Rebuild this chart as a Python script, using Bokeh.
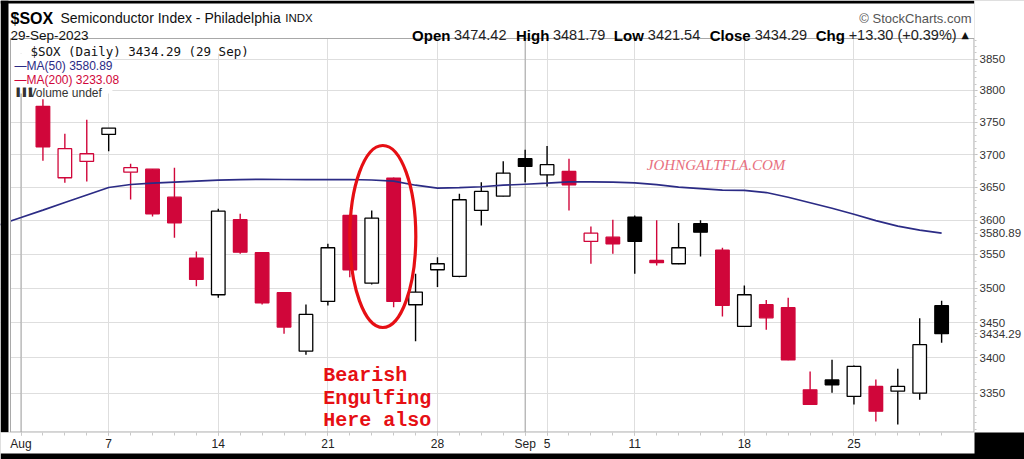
import math
from datetime import date
from bokeh.plotting import figure
from bokeh.models import FixedTicker, PrintfTickFormatter, Label
from bokeh.embed import file_html
from bokeh.resources import INLINE

# ---------------- data ----------------
trading_days = [
    "2023-08-01", "2023-08-02", "2023-08-03", "2023-08-04", "2023-08-07", "2023-08-08",
    "2023-08-09", "2023-08-10", "2023-08-11", "2023-08-14", "2023-08-15", "2023-08-16",
    "2023-08-17", "2023-08-18", "2023-08-21", "2023-08-22", "2023-08-23", "2023-08-24",
    "2023-08-25", "2023-08-28", "2023-08-29", "2023-08-30", "2023-08-31", "2023-09-01",
    "2023-09-05", "2023-09-06", "2023-09-07", "2023-09-08", "2023-09-11", "2023-09-12",
    "2023-09-13", "2023-09-14", "2023-09-15", "2023-09-18", "2023-09-19", "2023-09-20",
    "2023-09-21", "2023-09-22", "2023-09-25", "2023-09-26", "2023-09-27", "2023-09-28",
    "2023-09-29",
]
candle_days = trading_days[1:]
opens = [3775.0, 3664.5, 3689.4, 3731.1, 3673.0, 3677.6, 3635.0, 3544.0, 3490.4, 3601.0,
         3551.9, 3493.3, 3409.4, 3480.7, 3607.5, 3507.3, 3663.9, 3475.9, 3526.9, 3517.1,
         3615.0, 3636.5, 3693.6, 3669.0, 3674.1, 3568.7, 3575.0, 3605.0, 3540.6, 3535.7,
         3595.0, 3555.6, 3444.7, 3475.9, 3471.6, 3355.0, 3368.9, 3345.8, 3359.8, 3353.2,
         3350.4, 3474.42]
highs = [3786.0, 3732.0, 3754.0, 3740.9, 3685.9, 3678.0, 3679.8, 3553.8, 3617.5, 3610.0,
         3553.0, 3494.5, 3476.3, 3565.2, 3608.5, 3615.0, 3665.0, 3521.0, 3545.4, 3640.2,
         3657.8, 3689.8, 3707.4, 3713.0, 3693.6, 3591.0, 3601.0, 3607.5, 3600.2, 3596.0,
         3600.2, 3559.3, 3504.0, 3482.6, 3486.1, 3380.8, 3397.3, 3389.0, 3369.6, 3384.6,
         3456.6, 3481.79]
lows = [3690.6, 3656.9, 3658.8, 3705.2, 3631.5, 3606.0, 3574.2, 3502.9, 3486.1, 3550.5,
        3476.3, 3434.2, 3404.4, 3474.9, 3516.0, 3505.4, 3472.4, 3423.6, 3501.5, 3516.0,
        3592.5, 3636.0, 3657.8, 3651.3, 3615.0, 3535.7, 3550.5, 3521.0, 3533.2, 3535.0,
        3546.5, 3459.0, 3444.0, 3439.9, 3396.5, 3334.5, 3351.0, 3334.7, 3311.2, 3307.0,
        3341.1, 3421.54]
closes = [3712.0, 3709.0, 3701.2, 3740.9, 3679.8, 3610.0, 3596.5, 3512.7, 3613.9, 3552.8,
          3478.8, 3443.7, 3461.9, 3559.3, 3526.9, 3603.4, 3480.7, 3494.2, 3535.7, 3631.1,
          3643.7, 3671.5, 3681.7, 3684.4, 3653.8, 3581.0, 3565.2, 3568.7, 3537.2, 3559.3,
          3582.5, 3474.9, 3490.4, 3457.1, 3397.0, 3334.7, 3362.1, 3387.8, 3325.4, 3359.8,
          3418.6, 3434.29]
ma50_days = ["2023-07-31"] + trading_days
ma50 = [3593.4, 3604.3, 3615.5, 3626.9, 3638.2, 3649.6, 3654.2, 3656.2, 3657.7, 3659.2,
        3660.7, 3661.5, 3662.2, 3661.8, 3661.5, 3661.5, 3661.8, 3661.0, 3659.2, 3653.1,
        3648.6, 3649.3, 3650.8, 3653.1, 3654.6, 3656.2, 3658.1, 3658.1, 3657.7, 3656.6,
        3653.9, 3650.1, 3647.8, 3645.5, 3645.2, 3642.0, 3634.9, 3626.6, 3618.3, 3609.3,
        3599.6, 3591.5, 3585.6, 3580.89]
y_ticks = [3350, 3400, 3450, 3500, 3550, 3600, 3650, 3700, 3750, 3800, 3850]
y_minor = list(range(3300, 3890, 10))
ma200_last = 3233.08
quote = [("Open", "3474.42"), ("High", "3481.79"), ("Low", "3421.54"), ("Close", "3434.29"),
         ("Chg", "+13.30 (+0.39%)")]

# ---------------- colours / layout ----------------
RED = "#d0063a"
BLACK = "#000000"
NAVY = "#2b2b85"
ANNOT = "#e60f14"
FONT = "Liberation Sans"
GRID = "#dedede"
EDGE = "#a8a8a8"

FL, FR, FT, FB = 10, 975, 38, 432          # price panel in page pixels
X0, X1 = -0.48, 43.5
Y0, Y1 = 3296.0, 3883.0
FIG_W, FIG_H = 1024, 459


def dx(px):
    return X0 + (px - FL) * (X1 - X0) / (FR - FL)


def dy(py):
    return math.exp(math.log(Y1) - (py - FT) * (math.log(Y1) - math.log(Y0)) / (FB - FT))


pos = {d: i for i, d in enumerate(trading_days)}
pos["2023-07-31"] = -1
xs = [pos[d] for d in candle_days]
prev = [opens[0]] + closes[:-1]
colors = [RED if c < pc else BLACK for c, pc in zip(closes, prev)]
fills = ["white" if c > o else col for o, c, col in zip(opens, closes, colors)]
tops = [max(o, c) for o, c in zip(opens, closes)]
bots = [min(o, c) for o, c in zip(opens, closes)]

dts = [date.fromisoformat(d) for d in trading_days]
major_x, labels_x, month_x = [], {}, []
for i, d in enumerate(dts):
    new_month = i == 0 or d.month != dts[i - 1].month
    new_week = i == 0 or d.weekday() < dts[i - 1].weekday()
    if new_month:
        month_x.append(i)
    if new_month or new_week:
        major_x.append(i)
        labels_x[i] = d.strftime("%b") if new_month else str(d.day)

# the figure's frame covers the header area too (page 0,0 .. 975,432)
p = figure(width=FIG_W, height=FIG_H, x_range=(dx(0), X1), y_range=(Y0, dy(0)),
           y_axis_type="log", y_axis_location="right",
           output_backend="svg", toolbar_location=None,
           min_border_left=0, min_border_top=0, min_border_right=FIG_W - FR,
           min_border_bottom=FIG_H - FB)
p.background_fill_color = "white"
p.outline_line_color = None
try:
    # white axis panels inside a black picture edge
    p.xaxis.background_fill_color = "white"
    p.yaxis.background_fill_color = "white"
    p.border_fill_color = "black"
except Exception:
    p.border_fill_color = "white"

p.xaxis.ticker = FixedTicker(ticks=major_x, minor_ticks=list(range(0, 43)))
p.xaxis.major_label_overrides = labels_x
p.xaxis.major_label_text_font = FONT
p.xaxis.major_label_text_font_size = "12px"
p.xaxis.major_label_text_color = "#222222"
p.xaxis.major_label_standoff = 1
p.xaxis.axis_line_color = None
p.xaxis.major_tick_line_color = "#b8b8b8"
p.xaxis.minor_tick_line_color = "#c8c8c8"
p.xaxis.major_tick_out = 3
p.xaxis.minor_tick_out = 3
p.xaxis.major_tick_in = 0
p.xaxis.minor_tick_in = 0

flag_vals = [ma50[-1], closes[-1]]
p.yaxis.ticker = FixedTicker(ticks=y_ticks + flag_vals, minor_ticks=y_minor)
p.yaxis.formatter = PrintfTickFormatter(format="%d")
p.yaxis.major_label_overrides = {v: f"{v:.2f}" for v in flag_vals}
p.yaxis.major_label_text_font = FONT
p.yaxis.major_label_text_font_size = "11.5px"
p.yaxis.major_label_text_color = "#333333"
p.yaxis.major_label_standoff = 2
p.yaxis.axis_line_color = None
p.yaxis.major_tick_line_color = "#b8b8b8"
p.yaxis.minor_tick_line_color = "#c8c8c8"
p.yaxis.major_tick_out = 3
p.yaxis.minor_tick_out = 2
p.yaxis.major_tick_in = 0
p.yaxis.minor_tick_in = 0

p.xgrid.grid_line_color = GRID
p.ygrid.grid_line_color = GRID
p.ygrid.ticker = FixedTicker(ticks=y_ticks)

# month separators (darker grid lines)
p.segment(month_x, [Y0] * len(month_x), month_x, [Y1] * len(month_x),
          line_color="#a6a6a6", line_width=1)

# candles
p.segment(xs, highs, xs, lows, line_color=colors, line_width=1.4)
p.vbar(x=xs, width=0.62, top=tops, bottom=bots, fill_color=fills, line_color=colors,
       line_width=1.3)
# MA(50)
p.line([pos[d] for d in ma50_days], ma50, line_color=NAVY, line_width=1.7)

# hand-drawn annotation ellipse
p.ellipse(x=[dx(382.7)], y=[dy(236)], width=66, height=182, width_units="screen",
          height_units="screen", fill_color=None, line_color=ANNOT, line_width=3.2)

# white areas: header strip, left margin, legend panel
p.quad(left=[dx(0), dx(0), X0, X0], right=[X1, X0, dx(258), dx(112)],
       top=[dy(0), Y1, Y1, dy(53)], bottom=[Y1, Y0, dy(53), dy(93)],
       fill_color="white", line_color=None)
# black picture edge (top and left)
p.quad(left=[dx(0), dx(0)], right=[X1, dx(8)], top=[dy(0), dy(0)], bottom=[dy(3), Y0],
       fill_color="black", line_color=None)
# price panel border
p.segment([X0, X0, X1, X0], [Y0, Y1, Y0, Y0], [X0, X1, X1, X1], [Y1, Y1, Y1, Y0],
          line_color=EDGE, line_width=[1, 1, 2, 2])


def lab(text, px, py, size, color="#000000", style="normal", font=FONT, align="left",
        baseline="alphabetic", **kw):
    p.add_layout(Label(x=dx(px), y=dy(py), text=text, text_font=font,
                       text_font_size=f"{size}px", text_color=color, text_font_style=style,
                       text_align=align, text_baseline=baseline, **kw))


# legend panel
lab(f"$SOX (Daily) {closes[-1]:.2f} (29 Sep)", 30, 51, 12.5, "#111111",
    font="DejaVu Sans Mono")
lab(f"\u2014MA(50) {ma50[-1]:.2f}", 14, 65, 12, NAVY)
lab(f"\u2014MA(200) {ma200_last:.2f}", 14, 79, 12, RED)
lab("\u2590\u2590\u2590", 13, 92, 8, "#333333", font="DejaVu Sans")
lab("Volume undef", 28, 92.5, 12, "#333333")

lab("JOHNGALTFLA.COM", 647, 164, 15, "#e8707e", "italic", font="Liberation Serif")
lab("Bearish", 323, 375, 20, ANNOT, "bold", font="Liberation Mono")
lab("Engulfing", 323, 397.5, 20, ANNOT, "bold", font="Liberation Mono")
lab("Here also", 323, 420, 20, ANNOT, "bold", font="Liberation Mono")

# header
lab("$SOX", 10, 18.3, 16, "#000000", "bold")
lab("Semiconductor Index - Philadelphia", 60, 17.5, 14, "#111111")
lab("INDX", 285, 17.5, 11.5, "#111111")
lab("29-Sep-2023", 10, 34.5, 13.5, "#111111")
qx = [(412, 454), (516, 553), (614, 648), (710, 755), (816, 849)]
for (k, v), (lx, vx) in zip(quote, qx):
    lab(k, lx, 34.5, 15, "#000000", "bold")
    lab(v, vx, 34.5, 14.5, "#222222")
lab("\u25b2", 962, 33.5, 9.5, "#111111", font="DejaVu Sans")
lab("\u00a9 StockCharts.com", 972, 17.5, 13, "#555555", align="right")

open("out.html", "w").write(file_html(p, INLINE))
